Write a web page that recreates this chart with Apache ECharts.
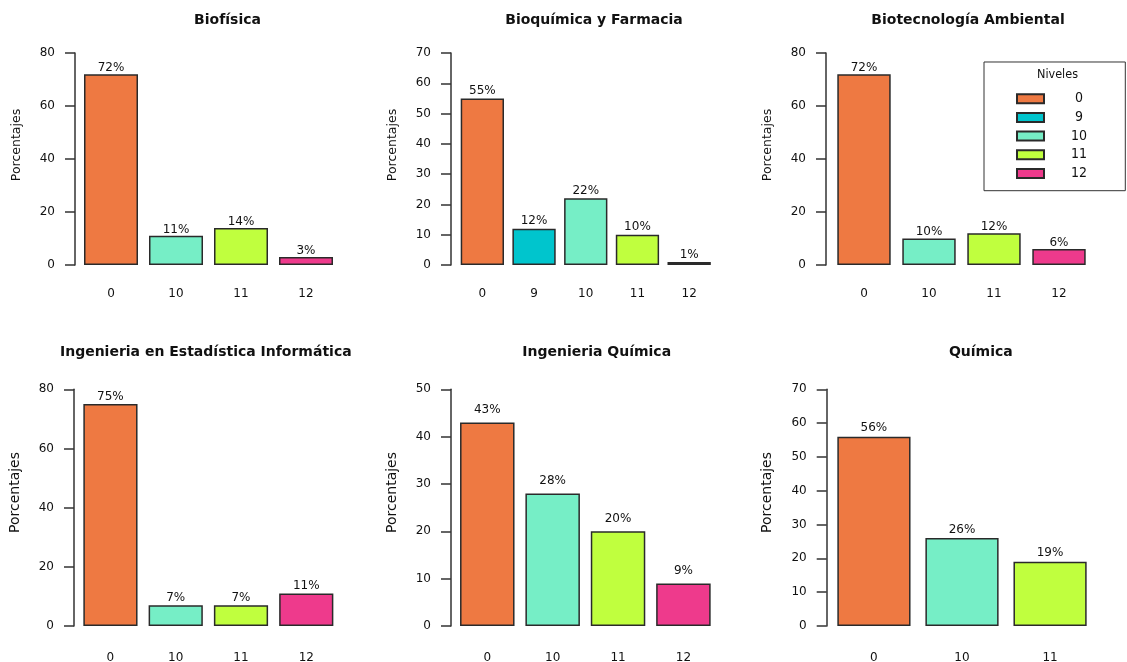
<!DOCTYPE html>
<html><head><meta charset="utf-8">
<script src="https://cdn.jsdelivr.net/npm/echarts@6/dist/echarts.min.js"></script>
<style>html,body{margin:0;padding:0;background:#fff}#c{width:1127px;height:662px}</style>
</head><body><div id="c"></div>
<script>
// ---- data ----
const titles = ['Biofísica', 'Bioquímica y Farmacia', 'Biotecnología Ambiental',
  'Ingenieria en Estadística Informática', 'Ingenieria Química', 'Química'];
const catsBiofisica = ['0', '10', '11', '12'];
const valsBiofisica = [72, 11, 14, 3];
const catsBioquimica = ['0', '9', '10', '11', '12'];
const valsBioquimica = [55, 12, 22, 10, 1];
const catsBiotec = ['0', '10', '11', '12'];
const valsBiotec = [72, 10, 12, 6];
const catsEstadistica = ['0', '10', '11', '12'];
const valsEstadistica = [75, 7, 7, 11];
const catsIngQuimica = ['0', '10', '11', '12'];
const valsIngQuimica = [43, 28, 20, 9];
const catsQuimica = ['0', '10', '11'];
const valsQuimica = [56, 26, 19];
const yMaxes = [80, 70, 80, 80, 50, 70];
const ySteps = [20, 10, 20, 20, 10, 10];
const levels = ['0', '9', '10', '11', '12'];
const levelColors = ['#EE7942', '#00C5CD', '#76EEC6', '#C0FF3E', '#EE3A8C'];
const legendTitle = 'Niveles';
const yName = 'Porcentajes';

const cats = [catsBiofisica, catsBioquimica, catsBiotec, catsEstadistica, catsIngQuimica, catsQuimica];
const vals = [valsBiofisica, valsBioquimica, valsBiotec, valsEstadistica, valsIngQuimica, valsQuimica];

// ---- layout (pixels) ----
const layout = [
  {l: 78.5, r: 338.5, t: 53, b: 265, ax: 75, bw: 54, tx: 227.5, ty: 20.5, m: 23, yc: 145, nf: 12.5},
  {l: 456.5, r: 715, t: 53, b: 265, ax: 451, bw: 43.3, tx: 594, ty: 20.5, m: 23, yc: 145, nf: 12.5},
  {l: 831.5, r: 1091.5, t: 53, b: 265, ax: 826, bw: 53.4, tx: 968, ty: 20.5, m: 23, yc: 145, nf: 12.5},
  {l: 77.8, r: 338.9, t: 389.3, b: 626, ax: 74, bw: 54.2, tx: 205.8, ty: 352.5, m: 26, yc: 492.5, nf: 14},
  {l: 454.6, r: 716.1, t: 389.3, b: 626, ax: 451, bw: 54.5, tx: 596.7, ty: 352.5, m: 26, yc: 492.5, nf: 14},
  {l: 829.9, r: 1094.1, t: 389.3, b: 626, ax: 826.7, bw: 73.2, tx: 980.8, ty: 352.5, m: 26, yc: 492.5, nf: 14}
];

const FF = 'DejaVu Sans';
const FFC = '"DejaVu Sans Condensed", "DejaVu Sans"';
const TXT = '#111';
const colorOf = c => levelColors[levels.indexOf(c)];

const grid = [], xAxis = [], yAxis = [], series = [], title = [];
layout.forEach((p, i) => {
  const h = p.b - p.t;
  grid.push({left: p.l, top: p.t, width: p.r - p.l, height: h, containLabel: false, outerBoundsMode: 'none'});
  xAxis.push({
    type: 'category', gridIndex: i, data: cats[i], boundaryGap: true,
    axisLine: {show: false}, axisTick: {show: false},
    axisLabel: {margin: p.m, fontSize: 12, fontFamily: FF, color: TXT}
  });
  const shift = ((p.t + p.b) / 2 - p.yc) * 2;
  yAxis.push({
    type: 'value', gridIndex: i, min: 0, max: yMaxes[i], interval: ySteps[i],
    offset: p.l - p.ax,
    axisLine: {show: true, lineStyle: {color: '#333', width: 1.5}},
    axisTick: {show: true, length: 10, lineStyle: {color: '#333', width: 1.5}},
    axisLabel: {margin: 20, fontSize: 12, fontFamily: FF, color: TXT},
    splitLine: {show: false},
    name: yName, nameLocation: 'middle', nameGap: 52, nameRotate: 90,
    nameTextStyle: {fontSize: p.nf, fontFamily: FF, color: TXT, padding: [0, 0, 0, shift]}
  });
  series.push({
    type: 'bar', xAxisIndex: i, yAxisIndex: i, barWidth: p.bw,
    data: vals[i].map((v, k) => ({value: v, itemStyle: {color: colorOf(cats[i][k])}})),
    itemStyle: {borderColor: '#2a2a2a', borderWidth: 1.5},
    label: {show: true, position: 'top', distance: 3 * h / yMaxes[i] - 1.5, verticalAlign: 'middle',
      formatter: '{c}%', fontSize: 12, fontFamily: FF, color: TXT},
    silent: true
  });
  title.push({text: titles[i], left: p.tx, top: p.ty - 8, textAlign: 'center', padding: 0,
    textStyle: {fontSize: 14, fontWeight: 'bold', fontFamily: FF, color: TXT, lineHeight: 16}});
});

// hidden grid for legend-only series
grid.push({left: 0, top: 0, width: 1, height: 1, show: false, outerBoundsMode: 'none'});
xAxis.push({type: 'category', gridIndex: 6, show: false, data: []});
yAxis.push({type: 'value', gridIndex: 6, show: false});
levels.forEach((lv, k) => {
  series.push({type: 'bar', name: lv, xAxisIndex: 6, yAxisIndex: 6, data: [],
    itemStyle: {color: levelColors[k], borderColor: '#2a2a2a', borderWidth: 1}});
});
title.push({text: legendTitle, left: 1057.5, top: 67, textAlign: 'center', padding: 0,
  textStyle: {fontSize: 12.5, fontWeight: 'normal', fontFamily: FFC, color: TXT, lineHeight: 16}});

const option = {
  animation: false,
  backgroundColor: '#fff',
  title, grid, xAxis, yAxis, series,
  legend: {
    data: levels, orient: 'vertical', left: 984, top: 62,
    icon: 'rect', itemWidth: 27, itemHeight: 9, itemGap: 4.7,
    padding: [29.7, 16.3, 10.2, 32],
    borderColor: '#333', borderWidth: 1,
    selectedMode: false,
    formatter: '{a|{name}}',
    textStyle: {fontSize: 14, lineHeight: 14, fontFamily: FFC, color: TXT,
      rich: {a: {width: 60, align: 'center', fontSize: 14, lineHeight: 14, fontFamily: FFC, color: TXT}}}
  }
};
const chart = echarts.init(document.getElementById('c'), null, {renderer: 'canvas'});
chart.setOption(option);
</script></body></html>
